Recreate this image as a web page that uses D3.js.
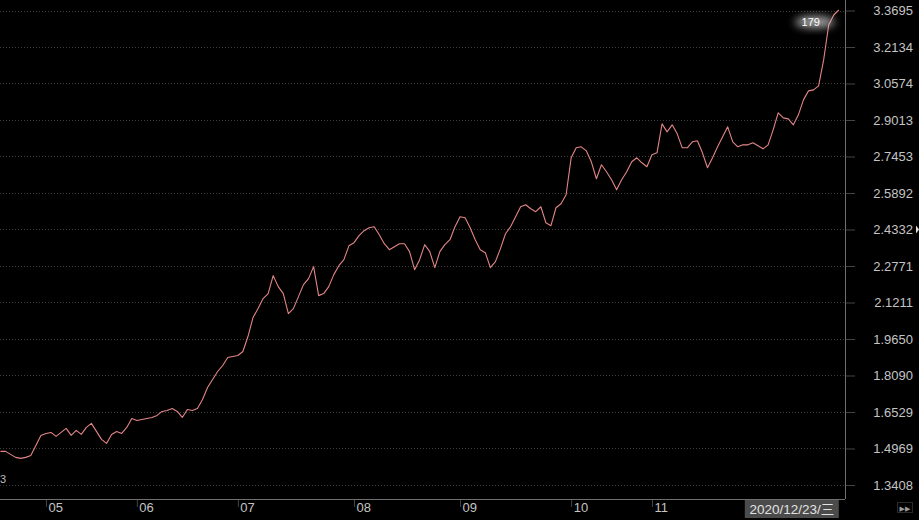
<!DOCTYPE html>
<html><head><meta charset="utf-8">
<script src="https://cdn.jsdelivr.net/npm/d3@7"></script>
<style>html,body{margin:0;padding:0;background:#000;overflow:hidden}</style>
</head><body><svg id="c" width="919" height="520"></svg>
<script>
const values = [
1.4845,1.4845,1.4717,1.4589,1.4546,1.4589,1.4674,1.5101,1.5528,1.5613,
1.5656,1.5485,1.5656,1.5827,1.5528,1.5741,1.5571,1.5870,1.6041,1.5699,
1.5357,1.5186,1.5571,1.5699,1.5613,1.5870,1.6254,1.6169,1.6211,1.6254,
1.6297,1.6382,1.6553,1.6595,1.6681,1.6553,1.6297,1.6638,1.6595,1.6681,
1.7065,1.7578,1.7919,1.8261,1.8517,1.8858,1.8901,1.8944,1.9115,1.9755,
2.0566,2.0950,2.1377,2.1591,2.2359,2.1890,2.1591,2.0737,2.0950,2.1463,
2.1975,2.2231,2.2743,2.1505,2.1591,2.1890,2.2402,2.2786,2.3042,2.3640,
2.3768,2.4067,2.4280,2.4409,2.4451,2.4110,2.3725,2.3469,2.3597,2.3725,
2.3725,2.3384,2.2615,2.3042,2.3683,2.3384,2.2701,2.3384,2.3683,2.3896,
2.4451,2.4878,2.4835,2.4409,2.3896,2.3469,2.3341,2.2701,2.2957,2.3512,
2.4152,2.4451,2.4878,2.5305,2.5391,2.5220,2.5092,2.5305,2.4622,2.4494,
2.5262,2.5433,2.5817,2.7397,2.7824,2.7867,2.7696,2.7226,2.6501,2.7098,
2.6799,2.6458,2.6031,2.6458,2.6799,2.7226,2.7397,2.7184,2.7013,2.7525,
2.7611,2.8849,2.8507,2.8806,2.8422,2.7824,2.7824,2.8080,2.8123,2.7611,
2.6970,2.7397,2.7867,2.8294,2.8721,2.8080,2.7867,2.7952,2.7952,2.8038,
2.7910,2.7781,2.7952,2.8593,2.9318,2.9105,2.9062,2.8806,2.9233,2.9873,
3.0258,3.0300,3.0471,3.1581,3.3076,3.3503,3.3716
];
const tickIndex = [9, 27, 47, 70, 91, 113, 129];
const tickLabels = ["05", "06", "07", "08", "09", "10", "11"];
const yTickValues = [3.3695,3.2134,3.0574,2.9013,2.7453,2.5892,2.4332,2.2771,2.1211,1.9650,1.8090,1.6529,1.4969,1.3408];
const dateLabel = "2020/12/23/三";
const lastLabel = "179";

const W = 919, H = 520, plotRight = 845, axisY = 499;
const font = "'Liberation Sans', Arial, 'Noto Sans CJK SC', sans-serif";
const svg = d3.select("#c");
svg.append("rect").attr("width", W).attr("height", H).attr("fill", "#000");

const defs = svg.append("defs");
defs.append("clipPath").attr("id", "clip").append("rect")
  .attr("x", 0).attr("y", 0).attr("width", plotRight).attr("height", axisY);
const blur = defs.append("filter").attr("id", "blur").attr("x", "-50%").attr("y", "-50%").attr("width", "200%").attr("height", "200%");
blur.append("feGaussianBlur").attr("stdDeviation", 4);

const x = d3.scaleLinear().domain([0, values.length - 1]).range([0.5, 838.8]);
const y = d3.scaleLinear().domain([1.3408, 3.3695]).range([485, 10.5]);

// grid
svg.append("g").selectAll("line").data(yTickValues).join("line")
  .attr("x1", 0).attr("x2", plotRight)
  .attr("y1", d => Math.round(y(d)) + 0.5).attr("y2", d => Math.round(y(d)) + 0.5)
  .attr("stroke", "#3c3c3c").attr("stroke-width", 1).attr("stroke-dasharray", "1,2");

// right axis
const ya = svg.append("g").attr("transform", `translate(${plotRight},0)`)
  .call(d3.axisRight(y).tickValues(yTickValues).tickFormat(d3.format(".4f")).tickSize(10));
ya.select(".domain").remove();
ya.selectAll(".tick line").attr("stroke", "#444");
ya.selectAll(".tick text").attr("x", 68).attr("text-anchor", "end")
  .attr("fill", "#c4c4c4").style("font-family", font).style("font-size", "13px");

// bottom axis
const xa = svg.append("g").attr("transform", `translate(0,${axisY})`)
  .call(d3.axisBottom(x).tickValues(tickIndex).tickFormat((d, i) => tickLabels[i]).tickSize(8));
xa.select(".domain").remove();
xa.selectAll(".tick line").attr("stroke", "#444");
xa.selectAll(".tick text").attr("x", 2).attr("y", 13).attr("dy", 0).attr("text-anchor", "start")
  .attr("fill", "#c4c4c4").style("font-family", font).style("font-size", "13px");

// frame lines
svg.append("line").attr("x1", 0).attr("x2", plotRight).attr("y1", axisY + 0.5).attr("y2", axisY + 0.5)
  .attr("stroke", "#707070");
svg.append("line").attr("x1", plotRight + 0.5).attr("x2", plotRight + 0.5).attr("y1", 0).attr("y2", axisY)
  .attr("stroke", "#707070");

// the series line
const line = d3.line().x((d, i) => x(i)).y(d => y(d));
svg.append("path").datum(values).attr("clip-path", "url(#clip)")
  .attr("d", line).attr("fill", "none").attr("stroke", "#e38585").attr("stroke-width", 1.1)
  .attr("stroke-linejoin", "round");

// glowing last-value label
const lx = x(values.length - 1) - 24, ly = y(values[values.length - 1]) + 12;
svg.append("ellipse").attr("cx", lx).attr("cy", ly).attr("rx", 20).attr("ry", 6)
  .attr("fill", "#cfcfcf").attr("opacity", 0.8).attr("filter", "url(#blur)");
svg.append("text").attr("x", lx - 4).attr("y", ly + 4).attr("text-anchor", "middle")
  .attr("fill", "#ffffff").style("font-family", font).style("font-size", "11px").text(lastLabel);

// date box
const bx = x(values.length - 1);
svg.append("rect").attr("x", bx - 94).attr("y", 500).attr("width", 94).attr("height", 18).attr("fill", "#4b4b4b");
svg.append("text").attr("x", bx - 47).attr("y", 514).attr("text-anchor", "middle")
  .attr("fill", "#e2e2e2").style("font-family", font).style("font-size", "13.5px").text(dateLabel);

// scroll button
svg.append("rect").attr("x", 897.5).attr("y", 502.5).attr("width", 15).attr("height", 10)
  .attr("fill", "none").attr("stroke", "#2a2a2a");
svg.append("text").attr("x", 905).attr("y", 511).attr("text-anchor", "middle")
  .attr("fill", "#9a9a9a").style("font-family", "'DejaVu Sans', sans-serif").style("font-size", "7px").text("▶▶");

// small cursor marker on right edge
const my = y(2.4332);
svg.append("path").attr("d", `M916,${my - 4}L919,${my}L916,${my + 4}Z`).attr("fill", "#e0e0e0");

// small label at bottom left
svg.append("text").attr("x", 0).attr("y", 483).attr("fill", "#bdbdbd")
  .style("font-family", font).style("font-size", "11px").text("3");
</script></body></html>
